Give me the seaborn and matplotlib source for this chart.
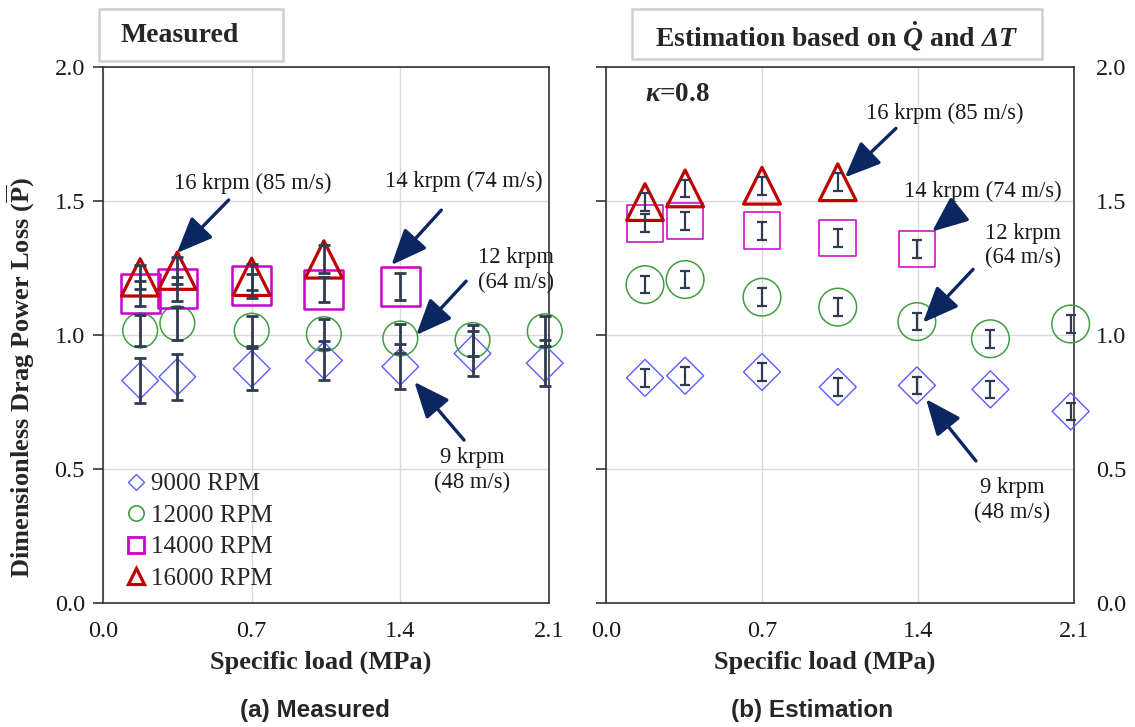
# Dimensionless drag power loss: measured vs. estimated (two panels)
import numpy as np
import pandas as pd
import seaborn as sns
import matplotlib.pyplot as plt
from matplotlib.lines import Line2D
from matplotlib.patches import Rectangle

# ------------------------------------------------------------------
# data
# ------------------------------------------------------------------
speeds = ['9000 RPM', '12000 RPM', '14000 RPM', '16000 RPM']

load_meas = [0.175, 0.35, 0.70, 1.04, 1.40, 1.74, 2.08]
p9000_meas = [0.830, 0.844, 0.874, 0.905, 0.882, 0.931, 0.895]
e9000_meas = [0.085, 0.085, 0.078, 0.072, 0.084, 0.085, 0.086]
p12000_meas = [1.017, 1.044, 1.016, 1.003, 0.987, 0.981, 1.014]
e12000_meas = [0.058, 0.061, 0.056, 0.057, 0.053, 0.058, 0.056]
p14000_meas = [1.155, 1.172, 1.184, 1.170, 1.182]
e14000_meas = [0.047, 0.045, 0.045, 0.047, 0.050]
p16000_meas = [1.215, 1.240, 1.217, 1.282]
e16000_meas = [0.045, 0.050, 0.048, 0.052]

load_est = [0.175, 0.355, 0.70, 1.04, 1.395, 1.725, 2.085]
p9000_est = [0.840, 0.848, 0.862, 0.806, 0.812, 0.797, 0.715]
p12000_est = [1.188, 1.207, 1.141, 1.104, 1.050, 0.986, 1.041]
p14000_est = [1.417, 1.425, 1.389, 1.362, 1.321]
p16000_est = [1.496, 1.547, 1.557, 1.570]
err_est = [0.033, 0.033, 0.033, 0.033, 0.033, 0.033, 0.033]

xticks = [0.0, 0.7, 1.4, 2.1]
yticks = [0.0, 0.5, 1.0, 1.5, 2.0]


def to_frame(load, values, errors):
    rows = []
    for spd, vals, errs in zip(speeds, values, errors):
        for x, y, e in zip(load, vals, errs):
            rows.append({'load': x, 'power': y, 'err': e, 'speed': spd})
    return pd.DataFrame(rows)


df_meas = to_frame(load_meas,
                   [p9000_meas, p12000_meas, p14000_meas, p16000_meas],
                   [e9000_meas, e12000_meas, e14000_meas, e16000_meas])
df_est = to_frame(load_est,
                  [p9000_est, p12000_est, p14000_est, p16000_est],
                  [err_est] * 4)

# ------------------------------------------------------------------
# styling
# ------------------------------------------------------------------
sns.set_theme(style='white')
plt.rcParams['font.family'] = ['Liberation Serif', 'DejaVu Serif']
plt.rcParams['mathtext.fontset'] = 'custom'
plt.rcParams['mathtext.rm'] = 'Liberation Serif:bold'
plt.rcParams['mathtext.bf'] = 'Liberation Serif:bold'
plt.rcParams['mathtext.it'] = 'Liberation Serif:italic:bold'
plt.rcParams['mathtext.sf'] = 'Liberation Serif:italic:bold'

colors = {'9000 RPM': '#5c5cff', '12000 RPM': '#3f9e3f',
          '14000 RPM': '#cc00cc', '16000 RPM': '#c00000'}
markers = {'9000 RPM': 'D', '12000 RPM': 'o', '14000 RPM': 's', '16000 RPM': '^'}
size_meas = {'9000 RPM': 350, '12000 RPM': 625, '14000 RPM': 790, '16000 RPM': 720}
size_est = {'9000 RPM': 355, '12000 RPM': 735, '14000 RPM': 700, '16000 RPM': 700}
lw_meas = {'9000 RPM': 1.0, '12000 RPM': 1.1, '14000 RPM': 1.8, '16000 RPM': 2.3}
lw_est = {'9000 RPM': 1.0, '12000 RPM': 1.1, '14000 RPM': 1.1, '16000 RPM': 2.3}
ebar_color = '#2f3b50'
arrow_color = '#0c2660'

fig = plt.figure(figsize=(11.35, 7.27), dpi=100)
W, H = 1135, 727
ax1 = fig.add_axes([103 / W, 124 / H, 446 / W, 536 / H])
ax2 = fig.add_axes([606 / W, 124 / H, 468 / W, 536 / H])


def draw_panel(ax, df, sizes, lws, elw, cap):
    for spd in speeds:
        sub = df[df['speed'] == spd]
        sns.scatterplot(x=sub['load'], y=sub['power'], ax=ax, marker=markers[spd],
                        s=sizes[spd], facecolor='none', edgecolor=colors[spd],
                        linewidth=lws[spd], zorder=3, legend=False, clip_on=False)
        ax.errorbar(sub['load'], sub['power'], yerr=sub['err'], fmt='none',
                    ecolor=ebar_color, elinewidth=elw, capsize=cap, capthick=elw,
                    zorder=4, clip_on=False)
    ax.set_xlim(0, 2.1)
    ax.set_ylim(0, 2.0)
    ax.set_xticks(xticks)
    ax.set_yticks(yticks)
    ax.set_xticklabels([f'{t:.1f}' for t in xticks])
    ax.set_yticklabels([f'{t:.1f}' for t in yticks])
    ax.grid(True, color='#d9d9d9', linewidth=1.0)
    ax.set_axisbelow(True)
    for sp in ax.spines.values():
        sp.set_color('#333333')
        sp.set_linewidth(1.2)
    ax.tick_params(direction='out', length=7, width=1.2, color='#333333',
                   labelsize=17.5, pad=6, labelcolor='#1a1a1a')
    ax.set_xlabel('Specific load (MPa)', fontsize=19, fontweight='bold')
    ax.set_ylabel('')


draw_panel(ax1, df_meas, size_meas, lw_meas, 2.0, 4.0)
draw_panel(ax2, df_est, size_est, lw_est, 1.6, 3.5)

ax1.tick_params(axis='y', left=True, labelleft=True)
ax2.tick_params(axis='y', left=True, labelleft=False, right=False, labelright=True, pad=9)
ax1.xaxis.set_label_coords(0.489, -0.088)
ax2.xaxis.set_label_coords(0.468, -0.088)

ax1.set_ylabel(r'Dimensionless Drag Power Loss ($\overline{\mathrm{P}}$)',
               fontsize=19, fontweight='bold')
ax1.yaxis.set_label_coords(-0.148, 0.42)

# legend
handles = []
leg_ms = {'9000 RPM': 8, '12000 RPM': 11, '14000 RPM': 12, '16000 RPM': 12}
leg_lw = {'9000 RPM': 1.0, '12000 RPM': 1.2, '14000 RPM': 2.0, '16000 RPM': 2.3}
for spd in speeds:
    handles.append(Line2D([], [], linestyle='none', marker=markers[spd],
                          markersize=leg_ms[spd], markerfacecolor='none',
                          markeredgecolor=colors[spd], markeredgewidth=leg_lw[spd],
                          label=spd))
ax1.legend(handles=handles, loc='upper left', bbox_to_anchor=(0.046, 0.243),
           frameon=False, fontsize=18, handlelength=1.0, handletextpad=0.1,
           labelspacing=0.36, borderpad=0, borderaxespad=0)

# annotations: (label, text x, text y, tail x, tail y, head x, head y)
ann_meas = [
    ('16 krpm (85 m/s)', 0.705, 1.567, 0.592, 1.504, 0.348, 1.306),
    ('14 krpm (74 m/s)', 1.700, 1.572, 1.593, 1.466, 1.358, 1.261),
    ('12 krpm\n(64 m/s)', 1.945, 1.242, 1.710, 1.201, 1.475, 1.000),
    ('9 krpm\n(48 m/s)', 1.738, 0.496, 1.700, 0.608, 1.466, 0.825),
]
ann_est = [
    ('16 krpm (85 m/s)', 1.521, 1.827, 1.301, 1.771, 1.072, 1.588),
    ('14 krpm (74 m/s)', 1.692, 1.535, 1.579, 1.464, 1.463, 1.386),
    ('12 krpm\n(64 m/s)', 1.871, 1.333, 1.647, 1.245, 1.422, 1.046),
    ('9 krpm\n(48 m/s)', 1.822, 0.384, 1.660, 0.530, 1.436, 0.761),
]
for ax, anns in [(ax1, ann_meas), (ax2, ann_est)]:
    for label, tx, ty, ax0, ay0, hx, hy in anns:
        ax.text(tx, ty, label, ha='center', va='center', fontsize=16.3,
                linespacing=1.2, color='#1a1a1a', zorder=6)
        ax.annotate('', xy=(hx, hy), xytext=(ax0, ay0),
                    arrowprops=dict(arrowstyle='-|>,head_length=1.0,head_width=0.42',
                                    color=arrow_color, lw=2.4, shrinkA=0, shrinkB=0,
                                    mutation_scale=22),
                    zorder=6)

ax2.text(0.175, 1.896, r'$\kappa$=0.8', ha='left', va='center', fontsize=19.5,
         fontweight='bold')

# boxed panel titles
fig.add_artist(Rectangle((99 / W, 1 - 61 / H), 184 / W, 52 / H, transform=fig.transFigure,
                         facecolor='white', edgecolor='#cfcfcf', linewidth=1.8))
fig.add_artist(Rectangle((632 / W, 1 - 59 / H), 410 / W, 50 / H, transform=fig.transFigure,
                         facecolor='white', edgecolor='#cfcfcf', linewidth=1.8))
fig.text(180 / W, 1 - 35 / H, 'Measured', ha='center', va='center',
         fontsize=20, fontweight='bold')
fig.text(837 / W, 1 - 36 / H, r'Estimation based on $\dot{Q}$ and $\mathsf{\Delta T}$',
         ha='center', va='center', fontsize=20, fontweight='bold')

# captions
fig.text(315 / W, 1 - 710 / H, '(a) Measured', ha='center', va='center',
         fontsize=17.5, fontweight='bold', family='Liberation Sans')
fig.text(812 / W, 1 - 710 / H, '(b) Estimation', ha='center', va='center',
         fontsize=17.5, fontweight='bold', family='Liberation Sans')

fig.savefig('out.png', dpi=100)
